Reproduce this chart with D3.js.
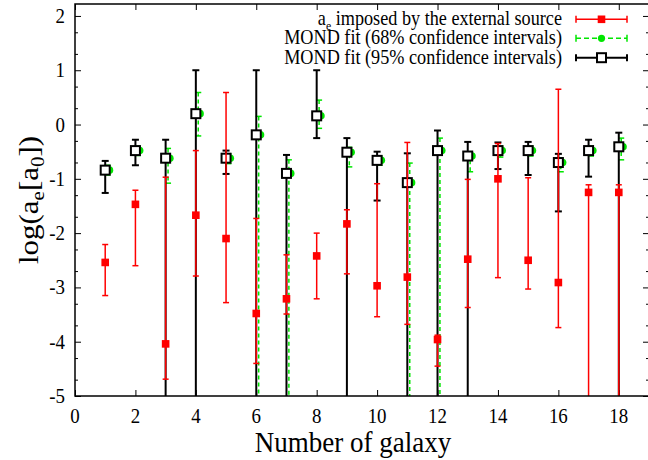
<!DOCTYPE html>
<html><head><meta charset="utf-8">
<script src="https://cdn.jsdelivr.net/npm/d3@7"></script>
<style>
html,body{margin:0;padding:0;background:#fff;}
svg{display:block;}
text{font-family:"Liberation Serif","Times New Roman",serif;fill:#000;}
</style></head>
<body>
<svg id="c" width="648" height="460"></svg>
<script>
// ---- data ----
const galaxies = [1,2,3,4,5,6,7,8,9,10,11,12,13,14,15,16,17,18];
// a_e imposed by the external source
const aeVal  = [-2.54,-1.47,-4.04,-1.67,-2.10,-3.48,-3.21,-2.42,-1.83,-2.97,-2.81,-3.96,-2.48,-1.00,-2.50,-2.91,-1.25,-1.25];
const aeHigh = [-2.21,-1.21,-0.97,-0.48, 0.59,-1.73,-2.40,-2.00,-1.57,-1.09,-0.33,-3.88,-1.01,-0.35,-0.98, 0.65,-1.11,-1.11];
const aeLow  = [-3.15,-2.60,-4.69,-2.79,-3.28,-4.40,-3.49,-3.21,-2.75,-3.54,-3.68,-4.45,-3.37,-2.82,-3.03,-3.74,-6.00,-6.00];
// MOND fit, 68% confidence intervals
const m68Val  = [-0.84,-0.48,-0.62, 0.20,-0.62,-0.19,-0.90, 0.16,-0.51,-0.66,-1.07,-0.48,-0.58,-0.48,-0.48,-0.70,-0.48,-0.41];
const m68High = [-0.75,-0.40,-0.44, 0.59,-0.54, 0.15,-0.65, 0.45,-0.42,-0.58,-0.71,-0.25,-0.53,-0.40,-0.40,-0.62,-0.40,-0.25];
const m68Low  = [-0.93,-0.57,-1.08,-0.21,-0.72,-6.00,-6.00,-0.07,-0.78,-0.75,-6.00,-6.00,-0.87,-0.60,-0.58,-0.87,-0.58,-0.65];
// MOND fit, 95% confidence intervals
const m95Val  = [-0.84,-0.48,-0.62, 0.20,-0.62,-0.19,-0.90, 0.16,-0.51,-0.66,-1.07,-0.48,-0.58,-0.48,-0.48,-0.70,-0.48,-0.41];
const m95High = [-0.67,-0.28,-0.28, 1.00,-0.48, 1.00,-0.56, 1.00,-0.25,-0.50,-0.53,-0.11,-0.32,-0.33,-0.32,-0.54,-0.28,-0.15];
const m95Low  = [-1.26,-0.75,-6.00,-6.00,-0.91,-6.00,-6.00,-0.25,-6.00,-1.40,-6.00,-6.00,-6.00,-0.82,-0.93,-1.60,-0.96,-6.00];
const xTicks = [0,2,4,6,8,10,12,14,16,18];
const yTicks = [-5,-4,-3,-2,-1,0,1,2];
const legendLabels = ["imposed by the external source","MOND fit (68% confidence intervals)","MOND fit (95% confidence intervals)"];

// ---- layout ----
const L=75, R=649, T=4, B=396;
const svg = d3.select("#c");
const x = d3.scaleLinear().domain([0,19]).range([L,R]);
const y = d3.scaleLinear().domain([-5,2.22]).range([B,T]);
const SX = 0.9;
const RED="#ff0000", GREEN="#00e600", BLACK="#000";

function label(px, py, size, anchor, sx){
  return svg.append("text")
    .attr("transform",`translate(${px},${py}) scale(${sx||SX},1)`)
    .attr("text-anchor",anchor).style("font-size",size+"px");
}

// clip
svg.append("clipPath").attr("id","clip").append("rect")
  .attr("x",L).attr("y",T).attr("width",R-L).attr("height",B-T);

// minor y ticks
const yMinor = [];
for(let k=-5;k<=2;k++){ [0.30103,0.69897].forEach(f=>{const v=k+f; if(v<2.22) yMinor.push(v);}); }

// left
svg.append("g").attr("transform",`translate(${L},0)`)
  .call(d3.axisLeft(y).tickValues(yTicks).tickSizeInner(-6).tickSizeOuter(0).tickFormat(""))
  .call(g=>g.select(".domain").remove());
svg.append("g").attr("transform",`translate(${L},0)`)
  .call(d3.axisLeft(y).tickValues(yMinor).tickSizeInner(-3).tickSizeOuter(0).tickFormat(""))
  .call(g=>g.select(".domain").remove());
// right
svg.append("g").attr("transform",`translate(${R},0)`)
  .call(d3.axisRight(y).tickValues(yTicks).tickSizeInner(-6).tickSizeOuter(0).tickFormat(""))
  .call(g=>g.select(".domain").remove());
svg.append("g").attr("transform",`translate(${R},0)`)
  .call(d3.axisRight(y).tickValues(yMinor).tickSizeInner(-3).tickSizeOuter(0).tickFormat(""))
  .call(g=>g.select(".domain").remove());
// bottom / top
svg.append("g").attr("transform",`translate(0,${B})`)
  .call(d3.axisBottom(x).tickValues(xTicks).tickSizeInner(-6).tickSizeOuter(0).tickFormat(""))
  .call(g=>g.select(".domain").remove());
svg.append("g").attr("transform",`translate(0,${T})`)
  .call(d3.axisTop(x).tickValues(xTicks).tickSizeInner(-6).tickSizeOuter(0).tickFormat(""))
  .call(g=>g.select(".domain").remove());
svg.selectAll(".tick line").attr("stroke","#000").attr("stroke-width",1);

// tick labels
yTicks.forEach(v=>{ label(65, y(v)+7, 21, "end").text(v); });
xTicks.forEach(v=>{ label(x(v), 423, 21, "middle").text(v); });

// axis titles
label(353, 452, 30, "middle").text("Number of galaxy");
const yl = svg.append("text")
  .attr("transform",`translate(38,200) rotate(-90) scale(1,${SX})`)
  .attr("text-anchor","middle").style("font-size","31px");
yl.append("tspan").text("log(a");
yl.append("tspan").attr("dy",7).style("font-size","21px").text("e");
yl.append("tspan").attr("dy",-7).text("[a");
yl.append("tspan").attr("dy",7).style("font-size","21px").text("0");
yl.append("tspan").attr("dy",-7).text("])");

// ---- data marks ----
const plot = svg.append("g").attr("clip-path","url(#clip)");
const data = galaxies.map((g,i)=>({g,i}));

function errBars(hiArr, loArr, dx, color, width, capW, dash){
  const gg = plot.append("g");
  gg.selectAll("line.v").data(data).join("line")
    .attr("x1",d=>x(d.g+dx)).attr("x2",d=>x(d.g+dx))
    .attr("y1",d=>y(hiArr[d.i])).attr("y2",d=>y(loArr[d.i]))
    .attr("stroke",color).attr("stroke-width",width).attr("stroke-dasharray",dash||null);
  [hiArr,loArr].forEach(arr=>{
    gg.selectAll(null).data(data).join("line")
      .attr("x1",d=>x(d.g+dx)-capW).attr("x2",d=>x(d.g+dx)+capW)
      .attr("y1",d=>y(arr[d.i])).attr("y2",d=>y(arr[d.i]))
      .attr("stroke",color).attr("stroke-width",width);
  });
}

// green (68%)
errBars(m68High, m68Low, 0.08, GREEN, 1.5, 3, "4,3");
plot.append("g").selectAll("circle").data(data).join("circle")
  .attr("cx",d=>x(d.g+0.14)).attr("cy",d=>y(m68Val[d.i])).attr("r",3.8).attr("fill",GREEN);
// black (95%)
errBars(m95High, m95Low, 0, BLACK, 2, 3.5);
plot.append("g").selectAll("rect").data(data).join("rect")
  .attr("x",d=>x(d.g)-4.5).attr("y",d=>y(m95Val[d.i])-4.5).attr("width",9).attr("height",9)
  .attr("fill","#fff").attr("stroke",BLACK).attr("stroke-width",2);
// red
errBars(aeHigh, aeLow, 0, RED, 1.5, 3);
plot.append("g").selectAll("rect").data(data).join("rect")
  .attr("x",d=>x(d.g)-3.8).attr("y",d=>y(aeVal[d.i])-3.8).attr("width",7.6).attr("height",7.6)
  .attr("fill",RED);

// frame
svg.append("rect").attr("x",L).attr("y",T).attr("width",R-L).attr("height",B-T)
  .attr("fill","none").attr("stroke","#000").attr("stroke-width",1.5);

// ---- legend ----
const rows = [19.3, 38.3, 57.7];
const colors = [RED, GREEN, BLACK];
rows.forEach((ry,k)=>{
  const t = label(562, ry+6, 20, "end", 0.91);
  if(k===0){
    t.append("tspan").text("a");
    t.append("tspan").attr("dy",5).style("font-size","13px").text("e");
    t.append("tspan").attr("dy",-5).text(" "+legendLabels[0]);
  } else t.text(legendLabels[k]);
  const c = colors[k], w = k===2?2:1.5;
  svg.append("line").attr("x1",576).attr("x2",627).attr("y1",ry).attr("y2",ry)
    .attr("stroke",c).attr("stroke-width",w).attr("stroke-dasharray",k===1?"5,3":null);
  [576,627].forEach(cx=>svg.append("line").attr("x1",cx).attr("x2",cx).attr("y1",ry-3.5).attr("y2",ry+3.5)
    .attr("stroke",c).attr("stroke-width",w));
  if(k===0) svg.append("rect").attr("x",597.7).attr("y",ry-3.8).attr("width",7.6).attr("height",7.6).attr("fill",RED);
  if(k===1) svg.append("circle").attr("cx",601.5).attr("cy",ry).attr("r",3.6).attr("fill",GREEN);
  if(k===2) svg.append("rect").attr("x",597).attr("y",ry-4.5).attr("width",9).attr("height",9)
    .attr("fill","#fff").attr("stroke",BLACK).attr("stroke-width",2);
});
</script>
</body></html>
